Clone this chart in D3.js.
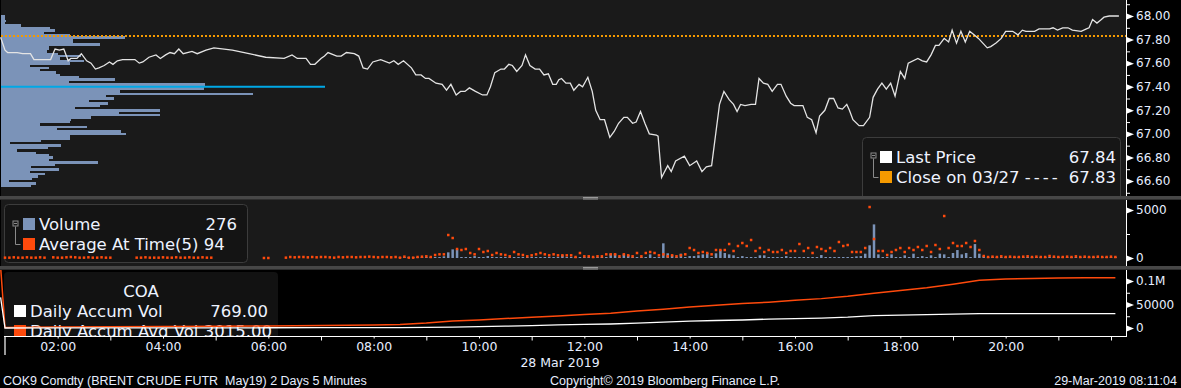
<!DOCTYPE html>
<html>
<head>
<meta charset="utf-8">
<script src="https://cdn.jsdelivr.net/npm/d3@7"></script>
<style>
body{margin:0;background:#000;}
svg{display:block;font-family:"DejaVu Sans",sans-serif;}
</style>
</head>
<body>
<svg id="chart" width="1181" height="388"></svg>
<script>
// last price, 28 Mar 2019
var priceTimes = ["00:55","01:00","01:03","01:14","01:20","01:29","01:33","01:52","01:57","02:02","02:07","02:12","02:15","02:22","02:27","02:33","02:38","02:43","02:47","02:53","02:59","03:03","03:08","03:14","03:28","03:33","03:37","03:44","03:52","03:57","04:03","04:08","04:13","04:18","04:23","04:33","04:39","04:49","04:58","05:19","05:38","05:57","06:18","06:27","06:33","06:43","06:48","06:53","07:00","07:04","07:08","07:18","07:23","07:29","07:38","07:43","07:48","07:53","07:59","08:08","08:18","08:23","08:28","08:34","08:43","08:48","08:54","08:59","09:03","09:11","09:18","09:23","09:28","09:34","09:39","09:44","09:49","09:56","10:04","10:09","10:13","10:18","10:25","10:29","10:34","10:38","10:43","10:49","10:53","10:58","11:04","11:09","11:14","11:19","11:24","11:28","11:31","11:34","11:39","11:44","11:48","11:54","11:58","12:04","12:09","12:13","12:18","12:23","12:29","12:34","12:39","12:45","12:49","12:55","12:59","13:04","13:09","13:14","13:22","13:24","13:28","13:35","13:39","13:44","13:54","14:00","14:08","14:14","14:19","14:25","14:34","14:39","14:45","14:50","14:54","14:58","15:03","15:10","15:15","15:19","15:24","15:29","15:34","15:40","15:44","15:50","15:55","15:59","16:09","16:14","16:19","16:24","16:28","16:34","16:39","16:44","16:49","16:54","16:59","17:02","17:06","17:13","17:18","17:25","17:29","17:34","17:39","17:44","17:49","17:54","18:00","18:05","18:09","18:20","18:25","18:30","18:35","18:40","18:44","18:50","18:55","18:59","19:04","19:09","19:14","19:19","19:24","19:29","19:34","19:39","19:43","19:49","19:55","20:00","20:08","20:14","20:19","20:23","20:33","20:38","20:50","20:54","20:59","21:05","21:11","21:16","21:26","21:32","21:35","21:39","21:44","21:49","21:52","21:58","22:09"];
var priceValues = [67.82,67.71,67.69,67.69,67.68,67.68,67.63,67.63,67.72,67.71,67.72,67.62,67.64,67.64,67.68,67.62,67.60,67.55,67.56,67.58,67.61,67.59,67.62,67.63,67.63,67.60,67.61,67.65,67.67,67.64,67.67,67.69,67.68,67.72,67.68,67.70,67.68,67.71,67.73,67.71,67.68,67.65,67.64,67.67,67.64,67.64,67.59,67.59,67.64,67.66,67.69,67.66,67.66,67.69,67.68,67.66,67.56,67.55,67.61,67.63,67.60,67.62,67.59,67.62,67.56,67.50,67.50,67.47,67.47,67.43,67.42,67.37,67.42,67.33,67.36,67.36,67.39,67.36,67.33,67.33,67.40,67.52,67.55,67.55,67.59,67.58,67.53,67.58,67.67,67.58,67.55,67.55,67.50,67.51,67.42,67.42,67.46,67.47,67.43,67.43,67.37,67.42,67.40,67.48,67.36,67.20,67.12,67.12,66.97,67.02,67.09,67.14,67.14,67.09,67.10,67.19,67.09,67.00,66.99,66.98,66.63,66.73,66.68,66.77,66.81,66.73,66.77,66.68,66.72,66.73,67.25,67.36,67.29,67.25,67.19,67.25,67.24,67.25,67.25,67.47,67.43,67.42,67.36,67.42,67.42,67.32,67.26,67.24,67.24,67.14,67.12,67.01,67.15,67.20,67.30,67.30,67.22,67.21,67.25,67.20,67.12,67.07,67.07,67.14,67.31,67.38,67.43,67.38,67.43,67.32,67.53,67.47,67.60,67.64,67.62,67.61,67.67,67.75,67.75,67.81,67.78,67.88,67.77,67.87,67.78,67.87,67.84,67.81,67.77,67.73,67.74,67.77,67.81,67.87,67.87,67.84,67.88,67.87,67.87,67.89,67.89,67.90,67.88,67.90,67.90,67.88,67.87,67.89,67.90,67.97,67.94,67.97,67.99,68.00,68.00];
var closePrice = 67.83;
var priceTicks = [66.6, 66.8, 67.0, 67.2, 67.4, 67.6, 67.8, 68.0];
var priceMinorTicks = [66.5, 66.7, 66.9, 67.1, 67.3, 67.5, 67.7, 67.9, 68.1];

// volume at price, one level per 0.02 from 68.00 down
var profileTop = 68.00;
var profileStep = 0.02;
var profileVolumes = [40,40,50,40,200,490,540,430,690,1240,720,720,990,480,480,460,570,800,590,830,690,290,480,390,550,590,780,1140,680,2040,2030,2030,1190,2520,1050,1130,880,1070,990,740,1590,1180,1590,900,700,690,390,860,560,1200,1250,690,690,400,90,600,470,160,350,480,520,480,970,540,300,580,290,440,370,310,80,350,300];
var pocPrice = 67.40;
var pocVolume = 3240;

// 5 minute bars from 01:00
var barStart = "01:00";
var barVolumes = [
  0,0,0,0,0,0,0,0,0,0, 0,0,0,0,0,0,0,0,0,0, 0,0,0,0,0,0,0,0,0,0,
  0,0,0,0,0,0,0,0,0,0, 0,0,0,0,0,0,0,0,0,0, 0,0,0,0,0,0,0,0,0,0,
  0,0,0,0,0,0,0,0,0,0, 0,0,0,0,0,0,0,0,0,0, 0,0,0,0,0,0,0,0,0,0,
  30,40,30,60,50,30,40,60,40,60, 174,590,900,900,70,60,70,200,60,60, 200,60,70,40,60,70,60,50,60,70,
  60,40,70,60,70,60,60,280,60,70, 60,40,60,70,60,50,60,60,450,450, 60,380,310,60,60,60,60,380,60,60,
  1530,490,280,60,450,60,200,200,280,380, 520,60,490,830,520,380,280,60,200,60, 60,60,280,280,60,60,60,60,200,60,
  60,60,60,60,60,60,310,60,60,60, 60,60,60,60,170,200,450,1320,3500,380, 60,60,380,60,60,280,60,450,60,200,
  60,280,60,450,380,60,520,830,380,520, 60,1450,450,200,60,40,60,30,60,40, 30,60,40,30,60,40,30,60,40,30,
  60,40,30,60,40,30,60,40,30,60, 40,30,60,40
];
var barAvgAtTime = [
  35,35,70,35,35,70,35,35,70,35, null,70,35,35,70,104,70,35,35,70, 35,35,70,35,35,null,null,null,null,null,
  35,35,70,35,35,35,70,35,35,70, 35,35,70,35,35,70,35,35,null,null, null,null,null,null,null,null,null,null,null,0,
  0,null,null,null,35,104,70,104,104,70, 104,70,104,104,70,35,104,70,104,104, 70,104,104,139,104,70,104,104,70,104,
  35,139,35,35,104,139,174,104,312,382, 382,2394,2082,937,833,937,521,382,937,625, 729,312,521,382,312,174,625,382,312,174,
  278,382,521,382,278,382,278,278,278,278, 104,521,174,174,104,174,174,382,382,382, 174,382,278,174,521,174,521,625,521,278,
  382,174,278,174,278,382,1041,833,521,625, 521,382,833,833,833,1457,729,1249,1562,1249, 1874,729,1041,625,833,625,625,833,521,729,
  729,1457,729,1041,521,1145,937,729,1041,729, 1666,1249,1353,625,625,625,1041,5309,1978,729, 729,312,625,833,1040,625,1040,833,1146,833,
  1250,625,1354,937,4375,1040,1562,1250,1250,1562, 1146,1770,833,208,104,139,104,174,104,139, 104,104,139,174,104,139,104,104,208,139,
  104,104,139,104,174,104,139,104,104,139, 104,104,139,104
];
var volTicks = [0, 5000];
var volMinorTicks = [2500];

// daily accumulated volume (white) and its average at time (orange)
var accumTimes = ["00:55","01:00","02:00","03:00","04:00","05:00","06:00","07:00","08:00","08:30","09:00","09:30","10:00","10:30","11:00","11:30","12:00","12:30","13:00","13:30","14:00","14:30","15:00","15:30","16:00","16:30","17:00","17:30","18:00","18:30","19:00","19:30","20:00","20:30","21:00","21:30","22:00","22:05"];
var accumVol = [65000,0,100,200,300,400,500,700,900,1000,1200,2000,3000,4000,5000,6500,7500,8500,10500,12500,14500,16000,17000,19000,20000,21000,23000,26500,27500,28500,29500,30500,30500,30500,30500,30500,30500,30500];
var accumAvgVol = [130000,1000,2000,2500,3000,3500,4500,5500,6500,7500,10500,15000,17000,20000,23000,25500,28500,31500,36000,40000,44500,48500,52000,55000,59000,62500,67500,74000,80000,85500,93000,101500,104500,105500,106500,107000,107000,107000];
var accumTicks = [0, 50000, 100000];
var accumMinorTicks = [25000, 75000];

var timeLabelHours = [2,4,6,8,10,12,14,16,18,20];
var timeTickHours = [3,5,7,9,11,13,15,17,19,21,22];
var timeSmallTickHours = [2,4,6,8,10,12,14,16,18,20];

var parseTime = d3.timeParse("%H:%M");
var hourDate = function(h){ return parseTime((h < 10 ? "0" : "") + h + ":00"); };
var barTime = function(i){ return d3.timeMinute.offset(parseTime(barStart), 5 * i); };

var svg = d3.select("#chart");
var axisX = 1126;
var textColor = "#eef3ff";

var x = d3.scaleTime().domain([hourDate(1), hourDate(22)]).range([5, 1111]);
var yPrice = d3.scaleLinear().domain([66.6, 68.0]).range([181, 16]);
var yVol = d3.scaleLinear().domain([0, 5000]).range([258, 210]);
var yAcc = d3.scaleLinear().domain([0, 100000]).range([328, 281]);
var xProfile = d3.scaleLinear().domain([0, 2520]).range([1, 253]);

// panel backgrounds
svg.append("rect").attr("x", 1).attr("y", 0).attr("width", axisX - 1).attr("height", 196).attr("fill", "#1a1a1a");
svg.append("rect").attr("x", 1).attr("y", 200).attr("width", axisX - 1).attr("height", 66).attr("fill", "#1a1a1a");

var defs = svg.append("defs");
var addClip = function(id, y0, h){
  defs.append("clipPath").attr("id", id).append("rect")
    .attr("x", 0).attr("y", y0).attr("width", axisX).attr("height", h);
};
addClip("clipTop", 0, 196);
addClip("clipMid", 200, 66);
addClip("clipBot", 270, 66.5);

var legendRow = function(g, sx, sy, color, label, value, valueX){
  g.append("rect").attr("x", sx).attr("y", sy).attr("width", 12).attr("height", 12).attr("fill", color);
  var t = g.append("text").attr("x", sx + 16).attr("y", sy + 12).attr("font-size", 16.5).attr("fill", textColor);
  if (label.indexOf("----") > 0) {
    // the dashes are drawn wider in the terminal font
    t.append("tspan").text(label.replace(" ----", " "));
    t.append("tspan").attr("letter-spacing", 3).text("----");
  } else {
    t.text(label);
  }
  if (value !== null) {
    g.append("text").attr("x", valueX).attr("y", sy + 12).attr("font-size", 16.5)
      .attr("text-anchor", "end").attr("fill", textColor).text(value);
  }
};
var treeIcon = function(g, cx, cy, y2){
  g.append("rect").attr("x", cx - 2.5).attr("y", cy - 2.5).attr("width", 5).attr("height", 5)
    .attr("fill", "none").attr("stroke", "#8a8a8a").attr("stroke-width", 1);
  g.append("line").attr("x1", cx - 1.5).attr("x2", cx + 1.5).attr("y1", cy).attr("y2", cy).attr("stroke", "#8a8a8a");
  g.append("path").attr("d", "M" + cx + "," + (cy + 3) + "V" + y2 + "H" + (cx + 5))
    .attr("fill", "none").attr("stroke", "#8a8a8a").attr("stroke-width", 1);
};

// ---- top panel: volume profile, close line, last price ----
var topPanel = svg.append("g").attr("clip-path", "url(#clipTop)");

topPanel.selectAll(".prof")
  .data(profileVolumes)
  .enter().append("rect")
  .attr("x", 1)
  .attr("y", function(d, i){ return yPrice(profileTop - i * profileStep + profileStep / 2); })
  .attr("width", function(d){ return xProfile(d) - 1; })
  .attr("height", yPrice(profileTop - profileStep / 2) - yPrice(profileTop + profileStep / 2) + 0.2)
  .attr("shape-rendering", "crispEdges")
  .attr("fill", "#7b93b8");

topPanel.append("line")
  .attr("x1", 1).attr("x2", xProfile(pocVolume))
  .attr("y1", yPrice(pocPrice)).attr("y2", yPrice(pocPrice))
  .attr("stroke", "#00a8e6").attr("stroke-width", 2);

topPanel.append("line")
  .attr("x1", 1).attr("x2", axisX)
  .attr("y1", yPrice(closePrice)).attr("y2", yPrice(closePrice))
  .attr("stroke", "#f59a00").attr("stroke-width", 2).attr("stroke-dasharray", "2,2");

var priceLine = d3.line()
  .x(function(d, i){ return x(parseTime(priceTimes[i])); })
  .y(function(d){ return yPrice(d); });
topPanel.append("path").datum(priceValues)
  .attr("d", priceLine)
  .attr("fill", "none").attr("stroke", "#e4e4e4").attr("stroke-width", 1.3);

var lgTop = topPanel.append("g");
lgTop.append("rect").attr("x", 862.5).attr("y", 137.5).attr("width", 258).attr("height", 70).attr("rx", 4)
  .attr("fill", "#161616").attr("stroke", "#3c3c3c");
treeIcon(lgTop, 873.5, 155.5, 177.5);
legendRow(lgTop, 880, 151, "#ffffff", "Last Price", "67.84", 1116);
legendRow(lgTop, 880, 171, "#f59a00", "Close on 03/27 ----", "67.83", 1116);

// ---- middle panel: volume and average at time ----
var midPanel = svg.append("g").attr("clip-path", "url(#clipMid)");
var lgMid = midPanel.append("g");
lgMid.append("rect").attr("x", 4.5).attr("y", 204.5).attr("width", 243).attr("height", 58).attr("rx", 4)
  .attr("fill", "#141414").attr("stroke", "#3c3c3c");
treeIcon(lgMid, 15.5, 223.5, 244.5);
legendRow(lgMid, 23, 218, "#7b93b8", "Volume", "276", 237);
legendRow(lgMid, 23, 238, "#ff4a0c", "Average At Time(5) 94", null, 0);

var volBars = barVolumes
  .map(function(v, i){ return {t: barTime(i), v: v}; })
  .filter(function(d){ return d.v > 0; });
var avgDots = barAvgAtTime
  .map(function(v, i){ return {t: barTime(i), v: v}; })
  .filter(function(d){ return d.v !== null; });

midPanel.selectAll(".vol")
  .data(volBars)
  .enter().append("rect")
  .attr("x", function(d){ return x(d.t) - 1.25; })
  .attr("y", function(d){ return Math.min(yVol(d.v), yVol(0) - 1); })
  .attr("width", 2.5)
  .attr("height", function(d){ return Math.max(1, yVol(0) - yVol(d.v)); })
  .attr("fill", "#7b93b8");

midPanel.selectAll(".avg")
  .data(avgDots)
  .enter().append("rect")
  .attr("x", function(d){ return x(d.t) - 1.25; })
  .attr("y", function(d){ return yVol(d.v) - 1.25; })
  .attr("width", 2.5).attr("height", 2.5)
  .attr("fill", "#ff4a0c");

// ---- bottom panel: daily accumulated volume ----
var botPanel = svg.append("g").attr("clip-path", "url(#clipBot)");
var lgBot = botPanel.append("g");
lgBot.append("rect").attr("x", 4).attr("y", 272).attr("width", 274).attr("height", 80).attr("rx", 4).attr("fill", "#121212");
lgBot.append("text").attr("x", 141).attr("y", 297).attr("font-size", 16.5).attr("text-anchor", "middle")
  .attr("fill", textColor).text("COA");
legendRow(lgBot, 14, 305, "#ffffff", "Daily Accum Vol", "769.00", 268);
legendRow(lgBot, 14, 325, "#ff4a0c", "Daily Accum Avg Vol 3015.00", null, 0);

var accLine = function(values){
  return d3.line()
    .x(function(d, i){ return x(parseTime(accumTimes[i])); })
    .y(function(d){ return yAcc(d); })(values);
};
botPanel.append("path").attr("d", accLine(accumAvgVol))
  .attr("fill", "none").attr("stroke", "#ff4a0c").attr("stroke-width", 1.5);
botPanel.append("path").attr("d", accLine(accumVol))
  .attr("fill", "none").attr("stroke", "#ffffff").attr("stroke-width", 1.3);

// ---- separators ----
[196, 266].forEach(function(sy){
  svg.append("rect").attr("x", 0).attr("y", sy).attr("width", 1181).attr("height", 4).attr("fill", "#474747");
  svg.append("rect").attr("x", 0).attr("y", sy + 3).attr("width", 1181).attr("height", 1).attr("fill", "#2e2e2e");
  [sy + 1.5, sy + 3].forEach(function(hy){
    svg.append("line").attr("x1", 583).attr("x2", 598).attr("y1", hy).attr("y2", hy)
      .attr("stroke", "#b0b0b0").attr("stroke-width", 0.8);
  });
});

// ---- right axes ----
var flag = "M0,-3.2L8,0L0,3.2Z";
var rightAxis = function(scale, ticks, minor, fmt, y0, y1){
  var g = svg.append("g").attr("transform", "translate(" + axisX + ",0)");
  g.call(d3.axisRight(scale).tickValues(ticks).tickSize(0).tickPadding(10).tickFormat(fmt));
  g.select(".domain").remove();
  g.selectAll(".tick text").attr("font-size", 12).attr("font-family", "DejaVu Sans").attr("fill", "#e6eeff");
  g.selectAll(".tick").append("path").attr("d", flag).attr("fill", "#ffffff");
  var m = svg.append("g").attr("transform", "translate(" + axisX + ",0)");
  m.call(d3.axisRight(scale).tickValues(minor).tickSize(4).tickFormat(""));
  m.select(".domain").remove();
  m.selectAll(".tick line").attr("stroke", "#ffffff");
  svg.append("line").attr("x1", axisX + 0.5).attr("x2", axisX + 0.5).attr("y1", y0).attr("y2", y1)
    .attr("stroke", "#ffffff");
};
rightAxis(yPrice, priceTicks, priceMinorTicks, d3.format(".2f"), 0, 196);
rightAxis(yVol, volTicks, volMinorTicks, d3.format("d"), 200, 266);
rightAxis(yAcc, accumTicks, accumMinorTicks, function(d){ return d === 100000 ? "0.1M" : d3.format("d")(d); }, 270, 337);

// ---- time axis ----
var timeAxisY = 336.5;
svg.append("line").attr("x1", 4).attr("x2", axisX + 0.5).attr("y1", timeAxisY).attr("y2", timeAxisY).attr("stroke", "#ffffff");
var tg = svg.append("g").attr("transform", "translate(0," + timeAxisY + ")");
tg.call(d3.axisBottom(x).tickValues(timeTickHours.map(hourDate)).tickSize(4).tickFormat(""));
tg.select(".domain").remove();
tg.selectAll(".tick line").attr("stroke", "#ffffff");
var ts = svg.append("g").attr("transform", "translate(0," + timeAxisY + ")");
ts.call(d3.axisBottom(x).tickValues(timeSmallTickHours.map(hourDate)).tickSize(2).tickFormat(""));
ts.select(".domain").remove();
ts.selectAll(".tick line").attr("stroke", "#ffffff");
var tl = svg.append("g").attr("transform", "translate(0," + timeAxisY + ")");
tl.call(d3.axisBottom(x).tickValues(timeLabelHours.map(hourDate)).tickSize(0).tickPadding(6).tickFormat(d3.timeFormat("%H:%M")));
tl.select(".domain").remove();
tl.selectAll(".tick text").attr("font-size", 12.5).attr("font-family", "DejaVu Sans").attr("fill", "#e6eeff");
svg.append("line").attr("x1", x(hourDate(1))).attr("x2", x(hourDate(1)))
  .attr("y1", timeAxisY).attr("y2", 355).attr("stroke", "#ffffff").attr("stroke-width", 1.2);

svg.append("text").attr("x", 560).attr("y", 367).attr("text-anchor", "middle")
  .attr("font-size", 12.5).attr("fill", "#e6eeff").text("28 Mar 2019");

// ---- footer ----
var footer = [
  {x: 3, anchor: "start", text: "COK9 Comdty (BRENT CRUDE FUTR  May19) 2 Days 5 Minutes"},
  {x: 665, anchor: "middle", text: "Copyright\u00a9 2019 Bloomberg Finance L.P."},
  {x: 1177, anchor: "end", text: "29-Mar-2019 08:11:04"}
];
svg.selectAll(".foot").data(footer).enter().append("text")
  .attr("x", function(d){ return d.x; }).attr("y", 385)
  .attr("text-anchor", function(d){ return d.anchor; })
  .attr("font-family", "Liberation Sans").attr("font-size", 12.5)
  .attr("fill", "#e6eeff").style("white-space", "pre")
  .text(function(d){ return d.text; });
</script>
</body>
</html>
